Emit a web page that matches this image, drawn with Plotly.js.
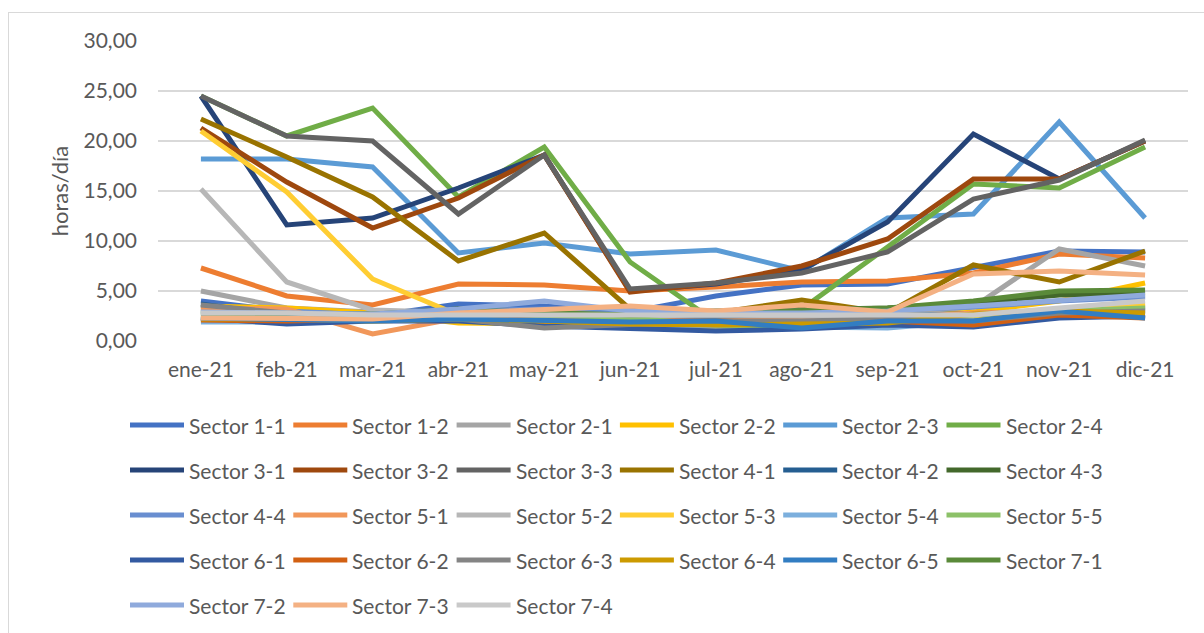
<!DOCTYPE html>
<html>
<head>
<meta charset="utf-8">
<script src="https://cdn.plot.ly/plotly-3.0.1.min.js"></script>
<style>
  html, body { margin: 0; padding: 0; background: #fff; }
  #frame { position: absolute; left: 8px; top: 12px; width: 1300px; height: 700px;
           border-left: 1px solid #D9D9D9; border-top: 1px solid #D9D9D9; }
  #chart { position: absolute; left: 0; top: 0; width: 1204px; height: 633px; }
</style>
</head>
<body>
<div id="frame"></div>
<div id="chart"></div>
<script>
const months = ["ene-21","feb-21","mar-21","abr-21","may-21","jun-21","jul-21","ago-21","sep-21","oct-21","nov-21","dic-21"];

const names = ["Sector 1-1","Sector 1-2","Sector 2-1","Sector 2-2","Sector 2-3","Sector 2-4",
               "Sector 3-1","Sector 3-2","Sector 3-3","Sector 4-1","Sector 4-2","Sector 4-3",
               "Sector 4-4","Sector 5-1","Sector 5-2","Sector 5-3","Sector 5-4","Sector 5-5",
               "Sector 6-1","Sector 6-2","Sector 6-3","Sector 6-4","Sector 6-5","Sector 7-1",
               "Sector 7-2","Sector 7-3","Sector 7-4"];

const colors = ["#4472C4","#ED7D31","#A5A5A5","#FFC000","#5B9BD5","#70AD47",
                "#264478","#9E480E","#636363","#997300","#255E91","#43682B",
                "#698ED0","#F1975A","#B7B7B7","#FFCD33","#7CAFDD","#8CC168",
                "#335AA1","#D26012","#848484","#CC9A00","#327DC2","#5A8A39",
                "#8FAADC","#F4B183","#C9C9C9"];

const s11 = [4.0, 3.0, 2.5, 3.7, 3.5, 2.9, 4.5, 5.6, 5.7, 7.4, 9.0, 8.9];
const s12 = [7.3, 4.5, 3.6, 5.7, 5.6, 5.0, 5.4, 5.9, 6.0, 6.8, 8.7, 8.3];
const s21 = [5.0, 3.3, 2.9, 2.8, 2.7, 2.6, 2.6, 2.6, 2.5, 3.4, 9.2, 7.5];
const s22 = [3.5, 3.3, 2.8, 1.8, 1.7, 1.5, 1.6, 1.8, 2.2, 2.9, 4.0, 5.8];
const s23 = [18.2, 18.2, 17.4, 8.8, 9.8, 8.7, 9.1, 7.0, 12.3, 12.7, 21.9, 12.3];
const s24 = [24.5, 20.5, 23.3, 14.4, 19.4, 7.9, 1.9, 3.2, 9.4, 15.7, 15.3, 19.4];
const s31 = [24.5, 11.6, 12.3, 15.3, 18.6, 5.0, 5.7, 7.1, 11.9, 20.7, 16.2, 20.0];
const s32 = [21.3, 15.9, 11.3, 14.3, 18.6, 4.9, 5.8, 7.5, 10.2, 16.2, 16.2, 20.0];
const s33 = [24.5, 20.5, 20.0, 12.7, 18.6, 5.2, 5.8, 6.8, 8.9, 14.2, 16.1, 20.1];
const s41 = [22.2, 18.4, 14.4, 8.0, 10.8, 3.2, 2.8, 4.1, 2.8, 7.6, 5.9, 9.0];
const s42 = [3.7, 2.5, 2.7, 3.2, 2.2, 2.0, 2.4, 2.0, 2.5, 2.7, 3.0, 3.4];
const s43 = [3.0, 2.6, 2.7, 3.2, 3.0, 2.8, 3.0, 3.2, 3.3, 3.8, 4.6, 4.8];
const s44 = [3.2, 3.0, 2.6, 3.0, 3.2, 3.0, 2.9, 3.0, 3.1, 3.4, 4.0, 4.4];
const s51 = [3.3, 3.2, 0.7, 2.3, 2.1, 2.0, 2.0, 2.2, 2.3, 2.8, 3.0, 3.2];
const s52 = [15.2, 5.9, 3.1, 2.8, 2.6, 2.5, 2.6, 2.5, 2.4, 2.6, 3.2, 3.6];
const s53 = [21.0, 14.9, 6.2, 2.6, 1.8, 1.3, 1.3, 1.6, 2.0, 2.5, 3.0, 3.7];
const s54 = [1.9, 1.9, 2.1, 2.2, 2.0, 1.6, 1.5, 1.4, 1.3, 2.0, 2.5, 3.0];
const s55 = [2.5, 2.6, 2.5, 2.4, 2.6, 2.3, 1.6, 1.3, 2.0, 2.6, 3.0, 3.3];
const s61 = [2.3, 1.7, 2.0, 2.0, 1.5, 1.2, 1.0, 1.2, 1.6, 1.4, 2.3, 2.5];
const s62 = [2.1, 2.0, 2.2, 2.5, 2.0, 1.8, 1.8, 1.7, 2.0, 1.6, 2.6, 2.3];
const s63 = [3.6, 2.8, 2.4, 2.2, 1.3, 1.6, 2.0, 2.0, 2.2, 2.0, 2.8, 3.0];
const s64 = [2.2, 2.2, 2.0, 2.2, 2.0, 1.7, 1.6, 1.7, 1.8, 2.7, 3.0, 2.8];
const s65 = [2.3, 2.2, 2.0, 2.2, 2.1, 1.9, 2.0, 1.3, 2.0, 2.0, 3.0, 2.3];
const s71 = [2.8, 2.8, 2.7, 3.1, 2.9, 2.6, 2.8, 3.0, 3.3, 4.0, 5.0, 5.1];
const s72 = [2.9, 2.8, 2.7, 3.2, 4.0, 3.0, 2.8, 2.8, 3.0, 3.5, 4.1, 4.6];
const s73 = [2.3, 2.2, 2.2, 2.8, 3.1, 3.5, 3.0, 3.6, 2.9, 6.7, 7.0, 6.6];
const s74 = [2.8, 2.8, 2.6, 2.6, 2.7, 2.7, 2.7, 2.7, 2.6, 2.6, 3.3, 4.0];

const series = [s11,s12,s21,s22,s23,s24,s31,s32,s33,s41,s42,s43,s44,s51,s52,s53,s54,s55,
                s61,s62,s63,s64,s65,s71,s72,s73,s74];

const FONT = "Lato, 'Open Sans', sans-serif";
const TXT = "#595959";

const traces = series.map((vals, i) => ({
  type: "scatter", mode: "lines", x: months, y: vals, name: names[i],
  line: { color: colors[i], width: 5 }, hoverinfo: "skip", showlegend: false
}));

// plot area in pixels
const L = 158, R = 1188, T = 41, B = 341;
const px2x = p => (p - L) / (R - L);
const px2y = p => (B - p) / (B - T);

const shapes = [], annotations = [];
names.forEach((n, i) => {
  const c = i % 6, r = Math.floor(i / 6);
  const cx = c * 163.3, ry = 425 + r * 45;
  shapes.push({ type: "line", xref: "paper", yref: "paper",
    x0: px2x(130 + cx), x1: px2x(184 + cx), y0: px2y(ry), y1: px2y(ry),
    line: { color: colors[i], width: 5 } });
  annotations.push({ xref: "paper", yref: "paper", x: px2x(187 + cx), y: px2y(ry),
    xanchor: "left", yanchor: "middle", showarrow: false, text: n,
    font: { family: FONT, size: 21, color: TXT } });
});

const layout = {
  width: 1204, height: 633,
  margin: { l: L, r: 1204 - R, t: T, b: 633 - B, pad: 0 },
  paper_bgcolor: "rgba(0,0,0,0)", plot_bgcolor: "rgba(0,0,0,0)",
  separators: ",.",
  font: { family: FONT, size: 21, color: TXT },
  showlegend: false,
  xaxis: { type: "category", range: [-0.5, 11.5], showgrid: false, zeroline: false,
           showline: false, ticks: "", ticklabelstandoff: 14, automargin: false,
           tickfont: { family: FONT, size: 21, color: TXT } },
  yaxis: { range: [0, 30], dtick: 5, tick0: 0, tickformat: ".2f", showgrid: true,
           gridcolor: "#D9D9D9", gridwidth: 1.3, zeroline: false, showline: false,
           ticks: "", ticklabelstandoff: 20, automargin: false,
           tickfont: { family: FONT, size: 21, color: TXT },
           title: { text: "horas/día", standoff: 8, font: { family: FONT, size: 22, color: TXT } } },
  shapes: shapes,
  annotations: annotations
};

Plotly.newPlot("chart", traces, layout, { staticPlot: true, displayModeBar: false });
</script>
</body>
</html>
